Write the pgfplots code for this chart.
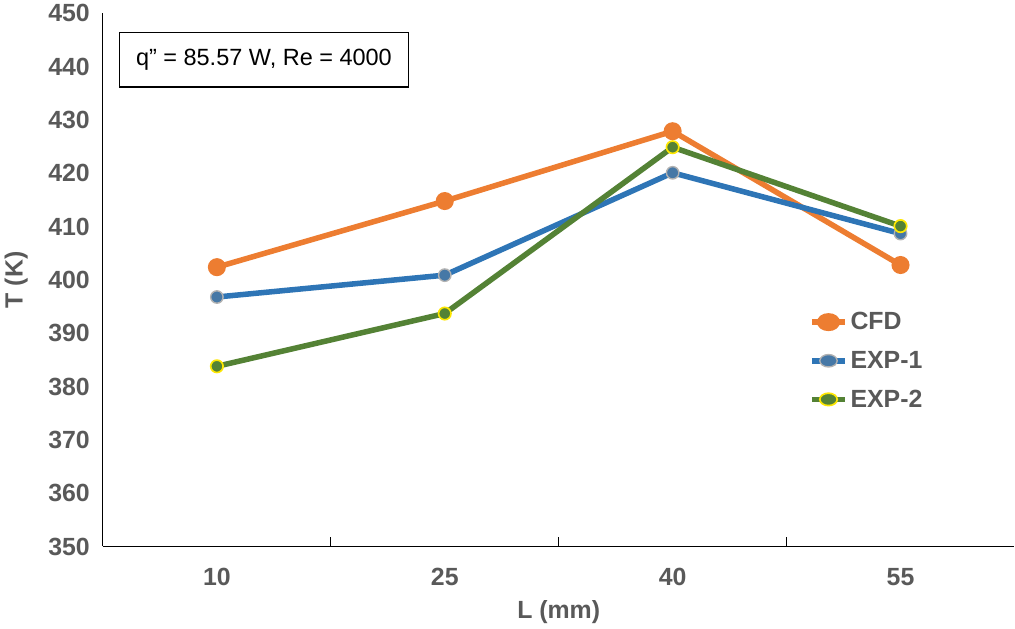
\documentclass[border=0pt]{standalone}
\usepackage{pgfplots}
\pgfplotsset{compat=1.18}
\usepackage{fontspec}
\setmainfont{Liberation Sans}
\definecolor{cfd}{HTML}{ED7D31}
\definecolor{e1}{HTML}{2E75B6}
\definecolor{e2}{HTML}{548235}
\definecolor{lab}{HTML}{595959}
\begin{document}
\begin{tikzpicture}
\begin{axis}[
  scale only axis, width=660pt, height=386pt,
  xmin=-0.5, xmax=3.5, ymin=350, ymax=450,
  axis x line*=bottom, axis y line*=left,
  xtick={0.5,1.5,2.5}, xticklabels={},
  major x tick style={black, line width=0.8pt}, major tick length=7pt,
  extra x ticks={0,1,2,3}, extra x tick labels={10,25,40,55},
  extra x tick style={major tick length=0pt, xticklabel style={yshift=-12pt}},
  ytick={350,360,...,450}, major y tick style={draw=none},
  yticklabel style={xshift=-6pt},
  tick label style={font=\fontsize{18}{21}\selectfont\bfseries, text=lab},
  /pgf/number format/assume math mode=true,
  xlabel={\textbf{L (mm)}}, ylabel={\textbf{T (K)}},
  xlabel style={yshift=-4pt}, ylabel style={yshift=8pt},
  label style={font=\fontsize{18}{21}\selectfont\bfseries, text=lab},
  axis line style={black, line width=0.8pt},
  legend style={at={(0.77,0.45)}, anchor=north west, draw=none, fill=none, font=\fontsize{18}{21}\selectfont\bfseries, text=lab, row sep=10pt},
  legend cell align=left,
  legend image post style={xscale=1.4},
  every axis plot/.append style={line width=4pt, mark=*, mark size=4.5pt},
]
\addplot[color=cfd, mark options={fill=cfd}] coordinates {(0,402.4)(1,414.8)(2,427.9)(3,402.8)};
\addlegendentry{CFD}
\addplot[color=e1, mark options={fill=e1!70!gray, draw=gray!60, line width=1pt}] coordinates {(0,396.8)(1,400.9)(2,420.1)(3,408.7)};
\addlegendentry{EXP-1}
\addplot[color=e2, mark options={fill=e2, draw=yellow!90!orange, line width=1.2pt}] coordinates {(0,383.8)(1,393.7)(2,424.9)(3,410.1)};
\addlegendentry{EXP-2}
\node[draw=black, line width=0.8pt, fill=white, anchor=north west, inner sep=12pt, font=\fontsize{17}{20}\selectfont] at (axis cs:-0.43,446.5) {q" = 85.57 W, Re = 4000};
\end{axis}
\end{tikzpicture}
\end{document}
